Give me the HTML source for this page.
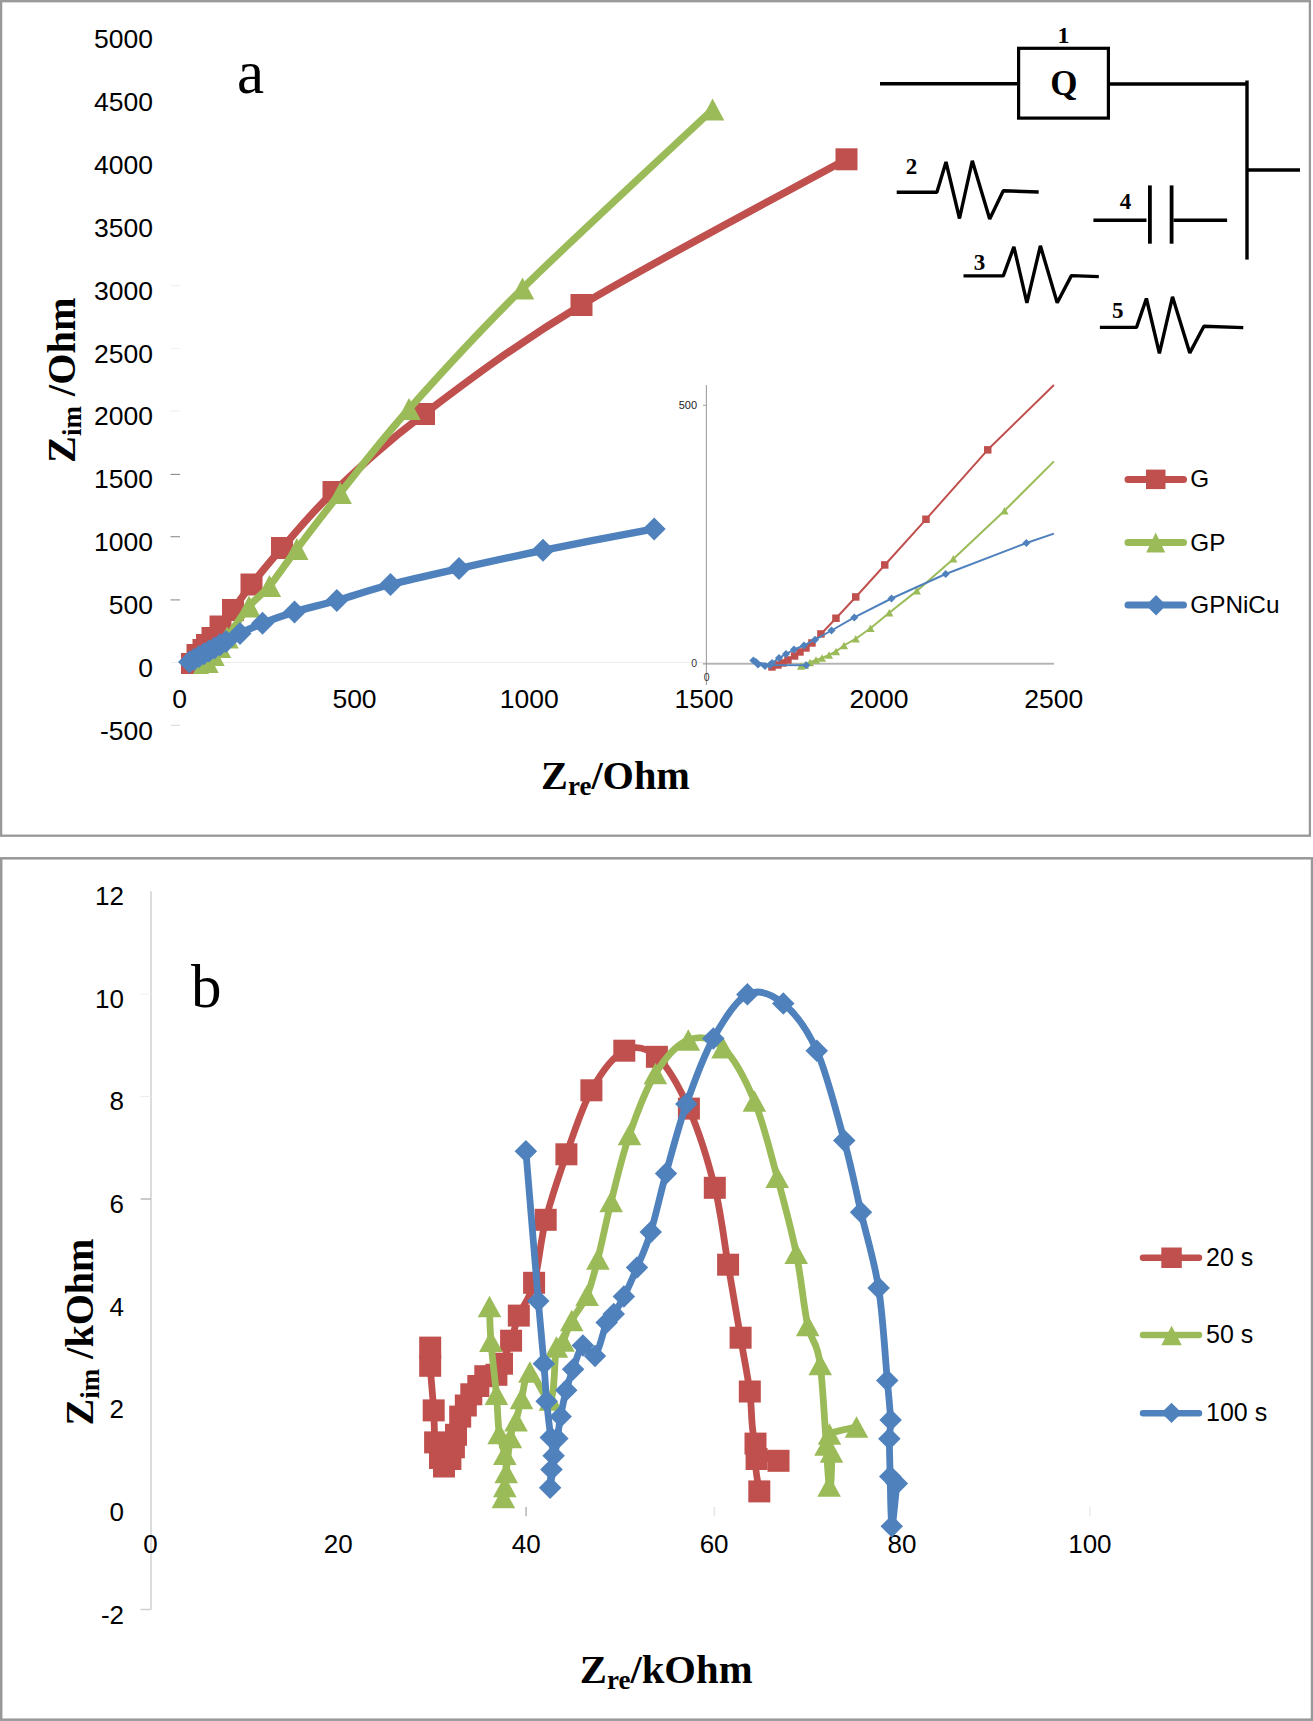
<!DOCTYPE html><html><head><meta charset="utf-8"><style>html,body{margin:0;padding:0;background:#fff;width:1313px;height:1721px;overflow:hidden}svg{display:block}.s{font-family:"Liberation Sans",sans-serif}.r{font-family:"Liberation Serif",serif}</style></head><body>
<svg width="1313" height="1721" viewBox="0 0 1313 1721">
<defs><clipPath id="ca"><rect x="0" y="0" width="1313" height="674"/></clipPath></defs>
<rect width="1313" height="1721" fill="#fff"/>
<rect x="1.1" y="1.2" width="1308.8" height="834.5" fill="none" stroke="#989898" stroke-width="2.3"/>
<rect x="1.2" y="858.3" width="1310.8" height="861.4" fill="none" stroke="#989898" stroke-width="2.5"/>
<text x="153" y="48.2" class="s" font-size="26.5" text-anchor="end" fill="#000">5000</text>
<text x="153" y="111.1" class="s" font-size="26.5" text-anchor="end" fill="#000">4500</text>
<text x="153" y="173.9" class="s" font-size="26.5" text-anchor="end" fill="#000">4000</text>
<text x="153" y="236.8" class="s" font-size="26.5" text-anchor="end" fill="#000">3500</text>
<text x="153" y="299.7" class="s" font-size="26.5" text-anchor="end" fill="#000">3000</text>
<text x="153" y="362.5" class="s" font-size="26.5" text-anchor="end" fill="#000">2500</text>
<text x="153" y="425.4" class="s" font-size="26.5" text-anchor="end" fill="#000">2000</text>
<text x="153" y="488.3" class="s" font-size="26.5" text-anchor="end" fill="#000">1500</text>
<text x="153" y="551.2" class="s" font-size="26.5" text-anchor="end" fill="#000">1000</text>
<text x="153" y="614.0" class="s" font-size="26.5" text-anchor="end" fill="#000">500</text>
<text x="153" y="676.9" class="s" font-size="26.5" text-anchor="end" fill="#000">0</text>
<text x="153" y="739.8" class="s" font-size="26.5" text-anchor="end" fill="#000">-500</text>
<text x="179.7" y="707.8" class="s" font-size="26.5" text-anchor="middle" fill="#000">0</text>
<text x="354.5" y="707.8" class="s" font-size="26.5" text-anchor="middle" fill="#000">500</text>
<text x="529.3" y="707.8" class="s" font-size="26.5" text-anchor="middle" fill="#000">1000</text>
<text x="704.1" y="707.8" class="s" font-size="26.5" text-anchor="middle" fill="#000">1500</text>
<text x="878.9" y="707.8" class="s" font-size="26.5" text-anchor="middle" fill="#000">2000</text>
<text x="1053.7" y="707.8" class="s" font-size="26.5" text-anchor="middle" fill="#000">2500</text>
<line x1="171" y1="662.5" x2="1054" y2="662.5" stroke="#ececec" stroke-width="1"/>
<line x1="171" y1="725.3" x2="180" y2="725.3" stroke="#d8d8d8" stroke-width="1"/>
<line x1="170.5" y1="285.6" x2="180" y2="285.6" stroke="#f0f0f0" stroke-width="1.1"/>
<line x1="170.5" y1="348.5" x2="180" y2="348.5" stroke="#f0f0f0" stroke-width="1.1"/>
<line x1="170.5" y1="411" x2="180" y2="411" stroke="#efefef" stroke-width="1.1"/>
<line x1="170.5" y1="474.4" x2="180" y2="474.4" stroke="#8a8a8a" stroke-width="1.1"/>
<line x1="170.5" y1="536.7" x2="180" y2="536.7" stroke="#8f8f8f" stroke-width="1.1"/>
<line x1="170.5" y1="599.9" x2="180" y2="599.9" stroke="#8f8f8f" stroke-width="1.1"/>
<text x="237" y="92.7" class="r" font-size="61" fill="#000">a</text>
<text transform="translate(74.7,463) rotate(-90)" class="r" font-weight="bold" font-size="40.3" fill="#000">Z<tspan font-size="27" dy="6">im</tspan><tspan dy="-6"> /Ohm</tspan></text>
<text x="541" y="788.6" class="r" font-weight="bold" font-size="40.3" fill="#000">Z<tspan font-size="27" dy="6">re</tspan><tspan dy="-6">/Ohm</tspan></text>
<g clip-path="url(#ca)">
<path d="M192.0,664.0 C192.9,662.5 195.6,657.3 197.5,655.0 C199.4,652.7 201.9,651.7 203.5,650.0 C205.1,648.3 205.5,647.0 207.0,645.0 C208.5,643.0 210.2,641.1 212.5,638.0 C214.8,634.9 217.1,631.2 220.5,626.5 C223.9,621.8 227.8,617.0 233.0,610.0 C238.2,603.0 243.3,594.8 251.5,584.5 C259.7,574.2 268.3,563.4 282.0,548.0 C295.7,532.6 309.8,514.3 333.5,492.0 C357.2,469.7 382.7,445.2 424.0,414.0 C465.3,382.8 511.1,347.4 581.5,305.0 C651.9,262.6 802.3,183.6 846.5,159.3" fill="none" stroke="#C0504D" stroke-width="7.4" stroke-linejoin="round" stroke-linecap="round"/>
<rect x="181.0" y="653.0" width="22" height="22" fill="#C0504D"/>
<rect x="186.5" y="644.0" width="22" height="22" fill="#C0504D"/>
<rect x="192.5" y="639.0" width="22" height="22" fill="#C0504D"/>
<rect x="196.0" y="634.0" width="22" height="22" fill="#C0504D"/>
<rect x="201.5" y="627.0" width="22" height="22" fill="#C0504D"/>
<rect x="209.5" y="615.5" width="22" height="22" fill="#C0504D"/>
<rect x="222.0" y="599.0" width="22" height="22" fill="#C0504D"/>
<rect x="240.5" y="573.5" width="22" height="22" fill="#C0504D"/>
<rect x="271.0" y="537.0" width="22" height="22" fill="#C0504D"/>
<rect x="322.5" y="481.0" width="22" height="22" fill="#C0504D"/>
<rect x="413.0" y="403.0" width="22" height="22" fill="#C0504D"/>
<rect x="570.5" y="294.0" width="22" height="22" fill="#C0504D"/>
<rect x="835.5" y="148.3" width="22" height="22" fill="#C0504D"/>
</g>
<g clip-path="url(#ca)">
<path d="M201.0,670.0 C202.0,668.7 205.0,664.5 207.0,662.0 C209.0,659.5 210.9,657.5 213.0,655.0 C215.1,652.5 217.2,649.9 219.5,647.0 C221.8,644.1 222.1,644.2 227.0,637.5 C231.9,630.8 241.9,615.1 249.0,606.5 C256.1,597.9 261.4,595.6 269.4,586.0 C277.4,576.4 285.0,564.5 296.8,549.0 C308.6,533.5 321.5,516.3 340.2,493.0 C358.9,469.7 378.6,443.1 409.0,409.0 C439.4,374.9 471.9,338.4 522.5,288.5 C573.1,238.6 680.9,139.4 712.6,109.6" fill="none" stroke="#9BBB59" stroke-width="7.3" stroke-linejoin="round" stroke-linecap="round"/>
<polygon points="201.0,659.0 212.7,681.0 189.3,681.0" fill="#9BBB59"/>
<polygon points="207.0,651.0 218.7,673.0 195.3,673.0" fill="#9BBB59"/>
<polygon points="213.0,644.0 224.7,666.0 201.3,666.0" fill="#9BBB59"/>
<polygon points="219.5,636.0 231.2,658.0 207.8,658.0" fill="#9BBB59"/>
<polygon points="227.0,626.5 238.7,648.5 215.3,648.5" fill="#9BBB59"/>
<polygon points="249.0,595.5 260.7,617.5 237.3,617.5" fill="#9BBB59"/>
<polygon points="269.4,575.0 281.1,597.0 257.7,597.0" fill="#9BBB59"/>
<polygon points="296.8,538.0 308.5,560.0 285.1,560.0" fill="#9BBB59"/>
<polygon points="340.2,482.0 351.9,504.0 328.5,504.0" fill="#9BBB59"/>
<polygon points="409.0,398.0 420.7,420.0 397.3,420.0" fill="#9BBB59"/>
<polygon points="522.5,277.5 534.2,299.5 510.8,299.5" fill="#9BBB59"/>
<polygon points="712.6,98.6 724.3,120.6 700.9,120.6" fill="#9BBB59"/>
</g>
<g clip-path="url(#ca)">
<path d="M189.5,662.0 C190.2,661.6 192.4,660.4 194.0,659.5 C195.6,658.6 197.3,657.6 199.0,656.6 C200.7,655.6 202.3,654.7 204.0,653.8 C205.7,652.9 207.2,652.0 209.0,651.0 C210.8,650.0 212.7,648.9 214.5,647.9 C216.3,646.9 218.1,645.9 220.0,644.8 C221.9,643.7 222.7,643.3 226.0,641.4 C229.3,639.5 233.9,636.5 240.0,633.5 C246.1,630.5 253.4,626.9 262.5,623.3 C271.6,619.7 282.1,615.8 294.5,612.0 C306.9,608.2 320.8,605.1 336.8,600.5 C352.8,595.9 370.1,589.8 390.5,584.5 C410.9,579.2 433.6,574.2 459.0,568.5 C484.4,562.8 510.5,556.9 543.0,550.3 C575.5,543.7 635.7,532.5 654.2,528.9" fill="none" stroke="#4F81BD" stroke-width="7.4" stroke-linejoin="round" stroke-linecap="round"/>
<polygon points="189.5,650.5 201.0,662.0 189.5,673.5 178.0,662.0" fill="#4F81BD"/>
<polygon points="194.0,648.0 205.5,659.5 194.0,671.0 182.5,659.5" fill="#4F81BD"/>
<polygon points="199.0,645.1 210.5,656.6 199.0,668.1 187.5,656.6" fill="#4F81BD"/>
<polygon points="204.0,642.3 215.5,653.8 204.0,665.3 192.5,653.8" fill="#4F81BD"/>
<polygon points="209.0,639.5 220.5,651.0 209.0,662.5 197.5,651.0" fill="#4F81BD"/>
<polygon points="214.5,636.4 226.0,647.9 214.5,659.4 203.0,647.9" fill="#4F81BD"/>
<polygon points="220.0,633.3 231.5,644.8 220.0,656.3 208.5,644.8" fill="#4F81BD"/>
<polygon points="226.0,629.9 237.5,641.4 226.0,652.9 214.5,641.4" fill="#4F81BD"/>
<polygon points="240.0,622.0 251.5,633.5 240.0,645.0 228.5,633.5" fill="#4F81BD"/>
<polygon points="262.5,611.8 274.0,623.3 262.5,634.8 251.0,623.3" fill="#4F81BD"/>
<polygon points="294.5,600.5 306.0,612.0 294.5,623.5 283.0,612.0" fill="#4F81BD"/>
<polygon points="336.8,589.0 348.3,600.5 336.8,612.0 325.3,600.5" fill="#4F81BD"/>
<polygon points="390.5,573.0 402.0,584.5 390.5,596.0 379.0,584.5" fill="#4F81BD"/>
<polygon points="459.0,557.0 470.5,568.5 459.0,580.0 447.5,568.5" fill="#4F81BD"/>
<polygon points="543.0,538.8 554.5,550.3 543.0,561.8 531.5,550.3" fill="#4F81BD"/>
<polygon points="654.2,517.4 665.7,528.9 654.2,540.4 642.7,528.9" fill="#4F81BD"/>
</g>
<line x1="706.4" y1="385" x2="706.4" y2="685" stroke="#a0a0a0" stroke-width="1.1"/>
<line x1="702.8" y1="663.9" x2="1054" y2="663.9" stroke="#9a9a9a" stroke-width="1.4"/>
<line x1="703" y1="405.3" x2="706.4" y2="405.3" stroke="#a0a0a0" stroke-width="1"/>
<text x="697" y="409.3" class="s" font-size="11" text-anchor="end" fill="#222">500</text>
<text x="697" y="666.8" class="s" font-size="10.5" text-anchor="end" fill="#333">0</text>
<text x="706.7" y="681.2" class="s" font-size="10.5" text-anchor="middle" fill="#333">0</text>
<polyline points="772.0,667.0 778.0,665.0 783.0,663.0 788.0,660.0 794.5,656.0 800.0,652.0 806.0,648.0 812.0,643.0 821.0,634.0 836.0,618.3 855.8,597.0 884.8,565.0 926.0,519.3 987.7,449.8 1053.9,385.0" fill="none" stroke="#C0504D" stroke-width="2" stroke-linejoin="round"/>
<rect x="768.2" y="663.2" width="7.5" height="7.5" fill="#C0504D"/>
<rect x="774.2" y="661.2" width="7.5" height="7.5" fill="#C0504D"/>
<rect x="779.2" y="659.2" width="7.5" height="7.5" fill="#C0504D"/>
<rect x="784.2" y="656.2" width="7.5" height="7.5" fill="#C0504D"/>
<rect x="790.8" y="652.2" width="7.5" height="7.5" fill="#C0504D"/>
<rect x="796.2" y="648.2" width="7.5" height="7.5" fill="#C0504D"/>
<rect x="802.2" y="644.2" width="7.5" height="7.5" fill="#C0504D"/>
<rect x="808.2" y="639.2" width="7.5" height="7.5" fill="#C0504D"/>
<rect x="817.2" y="630.2" width="7.5" height="7.5" fill="#C0504D"/>
<rect x="832.2" y="614.5" width="7.5" height="7.5" fill="#C0504D"/>
<rect x="852.0" y="593.2" width="7.5" height="7.5" fill="#C0504D"/>
<rect x="881.0" y="561.2" width="7.5" height="7.5" fill="#C0504D"/>
<rect x="922.2" y="515.5" width="7.5" height="7.5" fill="#C0504D"/>
<rect x="984.0" y="446.1" width="7.5" height="7.5" fill="#C0504D"/>
<polyline points="801.0,666.0 805.0,665.0 810.0,662.5 816.0,660.0 822.0,658.0 829.0,655.0 836.0,651.5 844.0,645.5 855.8,638.7 870.5,628.3 889.3,612.8 916.8,590.9 953.3,558.9 1004.5,510.7 1053.9,461.4" fill="none" stroke="#9BBB59" stroke-width="2" stroke-linejoin="round"/>
<polygon points="801.0,662.2 805.1,669.8 796.9,669.8" fill="#9BBB59"/>
<polygon points="805.0,661.2 809.1,668.8 800.9,668.8" fill="#9BBB59"/>
<polygon points="810.0,658.8 814.1,666.2 805.9,666.2" fill="#9BBB59"/>
<polygon points="816.0,656.2 820.1,663.8 811.9,663.8" fill="#9BBB59"/>
<polygon points="822.0,654.2 826.1,661.8 817.9,661.8" fill="#9BBB59"/>
<polygon points="829.0,651.2 833.1,658.8 824.9,658.8" fill="#9BBB59"/>
<polygon points="836.0,647.8 840.1,655.2 831.9,655.2" fill="#9BBB59"/>
<polygon points="844.0,641.8 848.1,649.2 839.9,649.2" fill="#9BBB59"/>
<polygon points="855.8,635.0 859.9,642.5 851.7,642.5" fill="#9BBB59"/>
<polygon points="870.5,624.5 874.6,632.0 866.4,632.0" fill="#9BBB59"/>
<polygon points="889.3,609.0 893.4,616.5 885.2,616.5" fill="#9BBB59"/>
<polygon points="916.8,587.1 920.9,594.6 912.7,594.6" fill="#9BBB59"/>
<polygon points="953.3,555.1 957.4,562.6 949.2,562.6" fill="#9BBB59"/>
<polygon points="1004.5,506.9 1008.6,514.5 1000.4,514.5" fill="#9BBB59"/>
<polyline points="806.3,665.2 770.0,665.0 756.0,662.0 753.4,660.5 758.0,664.5 765.0,666.0 772.0,663.0 779.0,658.0 786.0,654.0 794.0,649.5 804.0,645.5 815.0,639.7 831.5,630.5 854.3,617.4 891.5,598.5 945.7,574.0 1026.4,543.0 1053.9,533.6" fill="none" stroke="#4F81BD" stroke-width="2" stroke-linejoin="round"/>
<polygon points="806.3,661.2 810.3,665.2 806.3,669.2 802.3,665.2" fill="#4F81BD"/>
<polygon points="770.0,661.0 774.0,665.0 770.0,669.0 766.0,665.0" fill="#4F81BD"/>
<polygon points="756.0,658.0 760.0,662.0 756.0,666.0 752.0,662.0" fill="#4F81BD"/>
<polygon points="753.4,656.5 757.4,660.5 753.4,664.5 749.4,660.5" fill="#4F81BD"/>
<polygon points="758.0,660.5 762.0,664.5 758.0,668.5 754.0,664.5" fill="#4F81BD"/>
<polygon points="765.0,662.0 769.0,666.0 765.0,670.0 761.0,666.0" fill="#4F81BD"/>
<polygon points="772.0,659.0 776.0,663.0 772.0,667.0 768.0,663.0" fill="#4F81BD"/>
<polygon points="779.0,654.0 783.0,658.0 779.0,662.0 775.0,658.0" fill="#4F81BD"/>
<polygon points="786.0,650.0 790.0,654.0 786.0,658.0 782.0,654.0" fill="#4F81BD"/>
<polygon points="794.0,645.5 798.0,649.5 794.0,653.5 790.0,649.5" fill="#4F81BD"/>
<polygon points="804.0,641.5 808.0,645.5 804.0,649.5 800.0,645.5" fill="#4F81BD"/>
<polygon points="815.0,635.7 819.0,639.7 815.0,643.7 811.0,639.7" fill="#4F81BD"/>
<polygon points="831.5,626.5 835.5,630.5 831.5,634.5 827.5,630.5" fill="#4F81BD"/>
<polygon points="854.3,613.4 858.3,617.4 854.3,621.4 850.3,617.4" fill="#4F81BD"/>
<polygon points="891.5,594.5 895.5,598.5 891.5,602.5 887.5,598.5" fill="#4F81BD"/>
<polygon points="945.7,570.0 949.7,574.0 945.7,578.0 941.7,574.0" fill="#4F81BD"/>
<polygon points="1026.4,539.0 1030.4,543.0 1026.4,547.0 1022.4,543.0" fill="#4F81BD"/>
<line x1="1128" y1="479.4" x2="1183.5" y2="479.4" stroke="#C0504D" stroke-width="7" stroke-linecap="round"/>
<rect x="1146.0" y="469.6" width="19.5" height="19.5" fill="#C0504D"/>
<text x="1190.3" y="487.4" class="s" font-size="24.3" fill="#000">G</text>
<line x1="1128" y1="542.6" x2="1183.5" y2="542.6" stroke="#9BBB59" stroke-width="7" stroke-linecap="round"/>
<polygon points="1155.7,532.4 1165.2,552.4 1146.2,552.4" fill="#9BBB59"/>
<text x="1190.3" y="550.6" class="s" font-size="24.3" fill="#000">GP</text>
<line x1="1128" y1="605" x2="1183.5" y2="605" stroke="#4F81BD" stroke-width="7" stroke-linecap="round"/>
<polygon points="1156.1,595.1 1163.0,602.0 1163.0,608.5 1156.1,615.4 1149.1,608.5 1149.1,602.0" fill="#4F81BD"/>
<text x="1190.3" y="613.0" class="s" font-size="24.3" fill="#000">GPNiCu</text>
<line x1="880" y1="83.7" x2="1018.6" y2="83.7" stroke="#000" stroke-width="3.4" fill="none" stroke-linejoin="bevel"/>
<rect x="1018.6" y="48.3" width="89.8" height="69.8" stroke="#000" stroke-width="3.2" fill="none"/>
<line x1="1108.4" y1="84" x2="1247" y2="84" stroke="#000" stroke-width="3.4" fill="none" stroke-linejoin="bevel"/>
<line x1="1247" y1="80.5" x2="1247" y2="259.6" stroke="#000" stroke-width="3.4" fill="none" stroke-linejoin="bevel"/>
<line x1="1247" y1="170" x2="1300" y2="170" stroke="#000" stroke-width="3.4" fill="none" stroke-linejoin="bevel"/>
<polyline points="896.7,192.3 936.9,192.3 946,162 959.5,218.5 972.3,160.8 989.7,219 1003.3,190.8 1038.7,192" stroke="#000" stroke-width="3.4" fill="none" stroke-linejoin="bevel"/>
<polyline points="963.5,275.9 1003.3,275.9 1013.9,246.8 1026.9,302.8 1040.4,245.8 1057.2,302.8 1071.4,275.6 1098.8,276.6" stroke="#000" stroke-width="3.4" fill="none" stroke-linejoin="bevel"/>
<polyline points="1099.9,327.4 1136.5,327.4 1146.4,298.5 1159.4,353.4 1172.5,296.8 1189.8,352.9 1203.9,326.3 1243.3,327.6" stroke="#000" stroke-width="3.4" fill="none" stroke-linejoin="bevel"/>
<line x1="1093.4" y1="220.2" x2="1146.5" y2="220.2" stroke="#000" stroke-width="3.4" fill="none" stroke-linejoin="bevel"/>
<line x1="1149.9" y1="185.4" x2="1149.9" y2="243.7" stroke="#000" stroke-width="3.8"/>
<line x1="1171.6" y1="185.4" x2="1171.6" y2="243.7" stroke="#000" stroke-width="3.8"/>
<line x1="1173.5" y1="220.2" x2="1227.1" y2="220.2" stroke="#000" stroke-width="3.4" fill="none" stroke-linejoin="bevel"/>
<text x="1063.4" y="42.6" class="r" font-weight="bold" font-size="24" text-anchor="middle" fill="#000">1</text>
<text x="1063.8" y="95.4" class="r" font-weight="bold" font-size="35" text-anchor="middle" fill="#000">Q</text>
<text x="911.4" y="174.4" class="r" font-weight="bold" font-size="23" text-anchor="middle" fill="#000">2</text>
<text x="1125.6" y="209.3" class="r" font-weight="bold" font-size="23" text-anchor="middle" fill="#000">4</text>
<text x="979.4" y="269.8" class="r" font-weight="bold" font-size="23" text-anchor="middle" fill="#000">3</text>
<text x="1117.7" y="318.1" class="r" font-weight="bold" font-size="23" text-anchor="middle" fill="#000">5</text>
<line x1="151" y1="891.3" x2="151" y2="1609.5" stroke="#d0d0d0" stroke-width="1.5"/>
<line x1="140.5" y1="1609.5" x2="151" y2="1609.5" stroke="#d0d0d0" stroke-width="1.5"/>
<line x1="140.7" y1="994.1" x2="151" y2="994.1" stroke="#f0f0f0" stroke-width="1"/>
<line x1="140.7" y1="1096.6" x2="151" y2="1096.6" stroke="#ececec" stroke-width="1.2"/>
<line x1="140.7" y1="1199" x2="151" y2="1199" stroke="#b8b8b8" stroke-width="1.5"/>
<line x1="526.1" y1="1507" x2="526.1" y2="1516.2" stroke="#b4b4b4" stroke-width="1.5"/>
<line x1="714.3" y1="1507" x2="714.3" y2="1516.2" stroke="#e6e6e6" stroke-width="1.5"/>
<line x1="1089.9" y1="1507" x2="1089.9" y2="1516.2" stroke="#ebebeb" stroke-width="1.5"/>
<text x="124" y="905.0" class="s" font-size="26" text-anchor="end" fill="#000">12</text>
<text x="124" y="1007.7" class="s" font-size="26" text-anchor="end" fill="#000">10</text>
<text x="124" y="1110.4" class="s" font-size="26" text-anchor="end" fill="#000">8</text>
<text x="124" y="1213.0" class="s" font-size="26" text-anchor="end" fill="#000">6</text>
<text x="124" y="1315.7" class="s" font-size="26" text-anchor="end" fill="#000">4</text>
<text x="124" y="1418.4" class="s" font-size="26" text-anchor="end" fill="#000">2</text>
<text x="124" y="1521.1" class="s" font-size="26" text-anchor="end" fill="#000">0</text>
<text x="124" y="1623.8" class="s" font-size="26" text-anchor="end" fill="#000">-2</text>
<text x="150.4" y="1553" class="s" font-size="26" text-anchor="middle" fill="#000">0</text>
<text x="338.3" y="1553" class="s" font-size="26" text-anchor="middle" fill="#000">20</text>
<text x="526.2" y="1553" class="s" font-size="26" text-anchor="middle" fill="#000">40</text>
<text x="714.1" y="1553" class="s" font-size="26" text-anchor="middle" fill="#000">60</text>
<text x="902.0" y="1553" class="s" font-size="26" text-anchor="middle" fill="#000">80</text>
<text x="1089.9" y="1553" class="s" font-size="26" text-anchor="middle" fill="#000">100</text>
<text x="191" y="1007" class="r" font-size="61" fill="#000">b</text>
<text transform="translate(92.7,1425.4) rotate(-90)" class="r" font-weight="bold" font-size="40" fill="#000">Z<tspan font-size="27" dy="6">im</tspan><tspan dy="-6"> /kOhm</tspan></text>
<text x="579.8" y="1682.6" class="r" font-weight="bold" font-size="40.7" fill="#000">Z<tspan font-size="27" dy="6">re</tspan><tspan dy="-6">/kOhm</tspan></text>
<g>
<path d="M430.2,1347.6 C430.2,1350.6 429.6,1355.3 430.2,1365.8 C430.8,1376.3 432.9,1397.6 433.7,1410.4 C434.5,1423.2 434.1,1434.5 435.1,1442.4 C436.2,1450.3 438.5,1454.0 440.0,1458.0 C441.5,1462.0 442.3,1466.3 444.0,1466.5 C445.7,1466.7 448.8,1462.2 450.4,1459.0 C452.0,1455.8 453.0,1451.3 453.9,1447.3 C454.8,1443.3 454.9,1439.9 456.0,1434.8 C457.1,1429.7 458.6,1421.5 460.2,1416.6 C461.8,1411.7 463.9,1409.2 465.8,1405.5 C467.7,1401.8 469.2,1397.5 471.3,1394.3 C473.4,1391.0 476.0,1389.0 478.3,1386.0 C480.6,1383.0 482.3,1378.1 485.3,1376.2 C488.3,1374.3 493.6,1376.9 496.4,1374.8 C499.2,1372.7 499.6,1369.4 502.0,1363.7 C504.4,1358.0 508.3,1348.7 511.1,1340.7 C513.9,1332.7 515.0,1325.2 518.8,1315.6 C522.6,1305.9 529.6,1298.8 534.1,1282.8 C538.6,1266.8 540.3,1241.2 545.7,1219.8 C551.1,1198.4 558.8,1175.9 566.4,1154.3 C574.0,1132.7 581.8,1107.6 591.4,1090.3 C601.0,1073.0 613.4,1056.3 624.3,1050.7 C635.2,1045.1 646.1,1047.2 656.9,1056.8 C667.7,1066.4 679.2,1086.8 688.9,1108.6 C698.5,1130.4 708.3,1161.8 714.8,1187.8 C721.3,1213.8 723.8,1239.7 728.1,1264.7 C732.4,1289.7 737.0,1316.6 740.6,1337.7 C744.2,1358.8 747.3,1373.8 749.8,1391.5 C752.3,1409.2 750.7,1432.0 755.5,1443.6 C760.3,1455.1 778.3,1458.2 778.5,1460.8 C778.7,1463.4 759.8,1453.9 756.6,1459.0 C753.4,1464.1 758.8,1486.0 759.3,1491.4" fill="none" stroke="#C0504D" stroke-width="6.8" stroke-linejoin="round" stroke-linecap="round"/>
<rect x="419.2" y="1336.6" width="22" height="22" fill="#C0504D"/>
<rect x="419.2" y="1354.8" width="22" height="22" fill="#C0504D"/>
<rect x="422.7" y="1399.4" width="22" height="22" fill="#C0504D"/>
<rect x="424.1" y="1431.4" width="22" height="22" fill="#C0504D"/>
<rect x="429.0" y="1447.0" width="22" height="22" fill="#C0504D"/>
<rect x="433.0" y="1455.5" width="22" height="22" fill="#C0504D"/>
<rect x="439.4" y="1448.0" width="22" height="22" fill="#C0504D"/>
<rect x="442.9" y="1436.3" width="22" height="22" fill="#C0504D"/>
<rect x="445.0" y="1423.8" width="22" height="22" fill="#C0504D"/>
<rect x="449.2" y="1405.6" width="22" height="22" fill="#C0504D"/>
<rect x="454.8" y="1394.5" width="22" height="22" fill="#C0504D"/>
<rect x="460.3" y="1383.3" width="22" height="22" fill="#C0504D"/>
<rect x="467.3" y="1375.0" width="22" height="22" fill="#C0504D"/>
<rect x="474.3" y="1365.2" width="22" height="22" fill="#C0504D"/>
<rect x="485.4" y="1363.8" width="22" height="22" fill="#C0504D"/>
<rect x="491.0" y="1352.7" width="22" height="22" fill="#C0504D"/>
<rect x="500.1" y="1329.7" width="22" height="22" fill="#C0504D"/>
<rect x="507.8" y="1304.6" width="22" height="22" fill="#C0504D"/>
<rect x="523.1" y="1271.8" width="22" height="22" fill="#C0504D"/>
<rect x="534.7" y="1208.8" width="22" height="22" fill="#C0504D"/>
<rect x="555.4" y="1143.3" width="22" height="22" fill="#C0504D"/>
<rect x="580.4" y="1079.3" width="22" height="22" fill="#C0504D"/>
<rect x="613.3" y="1039.7" width="22" height="22" fill="#C0504D"/>
<rect x="645.9" y="1045.8" width="22" height="22" fill="#C0504D"/>
<rect x="677.9" y="1097.6" width="22" height="22" fill="#C0504D"/>
<rect x="703.8" y="1176.8" width="22" height="22" fill="#C0504D"/>
<rect x="717.1" y="1253.7" width="22" height="22" fill="#C0504D"/>
<rect x="729.6" y="1326.7" width="22" height="22" fill="#C0504D"/>
<rect x="738.8" y="1380.5" width="22" height="22" fill="#C0504D"/>
<rect x="744.5" y="1432.6" width="22" height="22" fill="#C0504D"/>
<rect x="767.5" y="1449.8" width="22" height="22" fill="#C0504D"/>
<rect x="745.6" y="1448.0" width="22" height="22" fill="#C0504D"/>
<rect x="748.3" y="1480.4" width="22" height="22" fill="#C0504D"/>
</g>
<g>
<path d="M489.5,1306.5 C489.7,1312.3 489.8,1326.7 490.9,1341.3 C492.0,1355.9 495.0,1378.9 496.4,1394.3 C497.8,1409.7 497.8,1423.4 499.2,1433.4 C500.6,1443.4 503.6,1447.8 504.8,1454.3 C506.0,1460.8 506.2,1467.1 506.2,1472.4 C506.2,1477.8 505.3,1482.2 504.8,1486.4 C504.3,1490.6 502.5,1505.6 503.4,1497.5 C504.3,1489.4 508.3,1450.4 510.4,1437.6 C512.5,1424.8 514.1,1427.3 516.0,1420.8 C517.9,1414.3 519.2,1406.6 521.5,1398.5 C523.8,1390.4 525.1,1371.8 529.9,1372.0 C534.7,1372.2 546.1,1404.2 550.5,1400.0 C554.9,1395.8 554.3,1356.8 556.4,1347.0 C558.5,1337.2 560.5,1345.4 563.0,1341.0 C565.5,1336.6 567.7,1328.0 571.7,1320.4 C575.7,1312.8 582.7,1305.5 587.1,1295.3 C591.5,1285.0 593.9,1274.5 597.9,1258.9 C601.9,1243.3 605.9,1222.2 611.2,1201.5 C616.5,1180.8 622.1,1155.8 629.5,1134.5 C636.9,1113.2 645.6,1089.3 655.4,1073.6 C665.2,1057.8 677.0,1044.3 688.3,1040.0 C699.6,1035.7 712.0,1037.5 723.0,1047.7 C734.0,1057.9 745.4,1079.4 754.4,1101.0 C763.4,1122.6 770.2,1151.8 777.2,1177.2 C784.2,1202.6 791.1,1228.5 796.2,1253.2 C801.3,1277.9 803.7,1306.9 807.7,1325.5 C811.7,1344.1 816.6,1337.8 820.2,1364.6 C823.8,1391.3 827.2,1471.4 829.1,1486.0 C831.0,1500.6 832.0,1458.8 831.5,1452.0 C831.0,1445.2 826.3,1448.0 826.0,1445.0 C825.7,1442.0 824.4,1437.0 829.5,1434.0 C834.6,1431.0 852.0,1428.2 856.5,1427.0" fill="none" stroke="#9BBB59" stroke-width="6.8" stroke-linejoin="round" stroke-linecap="round"/>
<polygon points="489.5,1295.8 501.3,1317.2 477.7,1317.2" fill="#9BBB59"/>
<polygon points="490.9,1330.5 502.7,1352.0 479.1,1352.0" fill="#9BBB59"/>
<polygon points="496.4,1383.5 508.2,1405.0 484.6,1405.0" fill="#9BBB59"/>
<polygon points="499.2,1422.7 511.0,1444.2 487.4,1444.2" fill="#9BBB59"/>
<polygon points="504.8,1443.5 516.6,1465.0 493.0,1465.0" fill="#9BBB59"/>
<polygon points="506.2,1461.7 518.0,1483.2 494.4,1483.2" fill="#9BBB59"/>
<polygon points="504.8,1475.7 516.6,1497.2 493.0,1497.2" fill="#9BBB59"/>
<polygon points="503.4,1486.8 515.2,1508.2 491.6,1508.2" fill="#9BBB59"/>
<polygon points="510.4,1426.8 522.2,1448.3 498.6,1448.3" fill="#9BBB59"/>
<polygon points="516.0,1410.0 527.8,1431.5 504.2,1431.5" fill="#9BBB59"/>
<polygon points="521.5,1387.8 533.3,1409.2 509.7,1409.2" fill="#9BBB59"/>
<polygon points="529.9,1361.2 541.7,1382.8 518.1,1382.8" fill="#9BBB59"/>
<polygon points="550.5,1389.2 562.3,1410.8 538.7,1410.8" fill="#9BBB59"/>
<polygon points="556.4,1336.2 568.2,1357.8 544.6,1357.8" fill="#9BBB59"/>
<polygon points="563.0,1330.2 574.8,1351.8 551.2,1351.8" fill="#9BBB59"/>
<polygon points="571.7,1309.7 583.5,1331.2 559.9,1331.2" fill="#9BBB59"/>
<polygon points="587.1,1284.5 598.9,1306.0 575.3,1306.0" fill="#9BBB59"/>
<polygon points="597.9,1248.2 609.7,1269.7 586.1,1269.7" fill="#9BBB59"/>
<polygon points="611.2,1190.8 623.0,1212.2 599.4,1212.2" fill="#9BBB59"/>
<polygon points="629.5,1123.8 641.3,1145.2 617.7,1145.2" fill="#9BBB59"/>
<polygon points="655.4,1062.8 667.2,1084.3 643.6,1084.3" fill="#9BBB59"/>
<polygon points="688.3,1029.2 700.1,1050.8 676.5,1050.8" fill="#9BBB59"/>
<polygon points="723.0,1037.0 734.8,1058.5 711.2,1058.5" fill="#9BBB59"/>
<polygon points="754.4,1090.2 766.2,1111.8 742.6,1111.8" fill="#9BBB59"/>
<polygon points="777.2,1166.5 789.0,1188.0 765.4,1188.0" fill="#9BBB59"/>
<polygon points="796.2,1242.5 808.0,1264.0 784.4,1264.0" fill="#9BBB59"/>
<polygon points="807.7,1314.8 819.5,1336.2 795.9,1336.2" fill="#9BBB59"/>
<polygon points="820.2,1353.8 832.0,1375.3 808.4,1375.3" fill="#9BBB59"/>
<polygon points="829.1,1475.2 840.9,1496.8 817.3,1496.8" fill="#9BBB59"/>
<polygon points="831.5,1441.2 843.3,1462.8 819.7,1462.8" fill="#9BBB59"/>
<polygon points="826.0,1434.2 837.8,1455.8 814.2,1455.8" fill="#9BBB59"/>
<polygon points="829.5,1423.2 841.3,1444.8 817.7,1444.8" fill="#9BBB59"/>
<polygon points="856.5,1416.2 868.3,1437.8 844.7,1437.8" fill="#9BBB59"/>
</g>
<g>
<path d="M525.9,1151.3 C528.0,1176.2 535.3,1265.5 538.3,1300.9 C541.3,1336.3 542.5,1347.0 543.9,1363.7 C545.3,1380.4 545.5,1389.0 546.6,1401.3 C547.8,1413.6 549.6,1428.5 550.8,1437.6 C552.0,1446.7 553.5,1450.4 553.6,1455.7 C553.7,1461.0 552.1,1464.2 551.5,1469.6 C550.9,1474.9 549.1,1493.0 550.1,1487.8 C551.1,1482.6 555.6,1450.3 557.4,1438.4 C559.1,1426.5 559.1,1424.6 560.6,1416.6 C562.1,1408.6 564.1,1398.1 566.2,1390.2 C568.3,1382.3 570.3,1376.7 573.1,1369.2 C575.9,1361.8 579.2,1347.7 582.9,1345.5 C586.5,1343.3 591.0,1359.7 595.0,1355.9 C599.0,1352.1 603.5,1329.6 606.6,1322.6 C609.7,1315.6 610.9,1318.2 613.8,1313.9 C616.7,1309.6 620.0,1304.3 623.9,1296.6 C627.8,1288.9 632.5,1278.4 637.0,1267.6 C641.5,1256.8 646.0,1247.7 650.8,1232.0 C655.6,1216.3 660.1,1194.8 666.0,1173.5 C671.9,1152.2 678.5,1126.5 686.4,1104.0 C694.3,1081.5 703.1,1056.8 713.3,1038.5 C723.5,1020.2 735.7,1000.2 747.4,994.4 C759.1,988.6 771.7,994.1 783.3,1003.5 C794.9,1012.9 806.6,1027.9 816.8,1050.7 C826.9,1073.5 836.8,1113.7 844.2,1140.6 C851.6,1167.5 855.3,1187.7 861.0,1212.2 C866.7,1236.8 874.2,1259.9 878.6,1287.9 C883.0,1316.0 885.3,1358.5 887.3,1380.5 C889.3,1402.5 890.2,1410.3 890.6,1420.0 C891.0,1429.7 889.5,1429.4 889.4,1438.8 C889.3,1448.2 889.8,1461.9 890.2,1476.5 C890.6,1491.1 890.7,1525.1 891.8,1526.3 C892.9,1527.5 896.0,1490.6 896.9,1483.5" fill="none" stroke="#4F81BD" stroke-width="6.8" stroke-linejoin="round" stroke-linecap="round"/>
<polygon points="525.9,1140.0 537.1,1151.3 525.9,1162.5 514.6,1151.3" fill="#4F81BD"/>
<polygon points="538.3,1289.7 549.5,1300.9 538.3,1312.2 527.0,1300.9" fill="#4F81BD"/>
<polygon points="543.9,1352.5 555.1,1363.7 543.9,1375.0 532.6,1363.7" fill="#4F81BD"/>
<polygon points="546.6,1390.0 557.9,1401.3 546.6,1412.5 535.4,1401.3" fill="#4F81BD"/>
<polygon points="550.8,1426.3 562.0,1437.6 550.8,1448.8 539.5,1437.6" fill="#4F81BD"/>
<polygon points="553.6,1444.5 564.9,1455.7 553.6,1467.0 542.4,1455.7" fill="#4F81BD"/>
<polygon points="551.5,1458.3 562.8,1469.6 551.5,1480.8 540.2,1469.6" fill="#4F81BD"/>
<polygon points="550.1,1476.5 561.4,1487.8 550.1,1499.0 538.9,1487.8" fill="#4F81BD"/>
<polygon points="557.4,1427.2 568.6,1438.4 557.4,1449.7 546.1,1438.4" fill="#4F81BD"/>
<polygon points="560.6,1405.3 571.9,1416.6 560.6,1427.8 549.4,1416.6" fill="#4F81BD"/>
<polygon points="566.2,1379.0 577.5,1390.2 566.2,1401.5 555.0,1390.2" fill="#4F81BD"/>
<polygon points="573.1,1358.0 584.4,1369.2 573.1,1380.5 561.9,1369.2" fill="#4F81BD"/>
<polygon points="582.9,1334.2 594.1,1345.5 582.9,1356.8 571.6,1345.5" fill="#4F81BD"/>
<polygon points="595.0,1344.7 606.2,1355.9 595.0,1367.2 583.8,1355.9" fill="#4F81BD"/>
<polygon points="606.6,1311.3 617.9,1322.6 606.6,1333.8 595.4,1322.6" fill="#4F81BD"/>
<polygon points="613.8,1302.7 625.0,1313.9 613.8,1325.2 602.5,1313.9" fill="#4F81BD"/>
<polygon points="623.9,1285.3 635.1,1296.6 623.9,1307.8 612.6,1296.6" fill="#4F81BD"/>
<polygon points="637.0,1256.3 648.2,1267.6 637.0,1278.8 625.8,1267.6" fill="#4F81BD"/>
<polygon points="650.8,1220.8 662.0,1232.0 650.8,1243.2 639.5,1232.0" fill="#4F81BD"/>
<polygon points="666.0,1162.2 677.2,1173.5 666.0,1184.8 654.8,1173.5" fill="#4F81BD"/>
<polygon points="686.4,1092.8 697.6,1104.0 686.4,1115.2 675.1,1104.0" fill="#4F81BD"/>
<polygon points="713.3,1027.2 724.5,1038.5 713.3,1049.8 702.0,1038.5" fill="#4F81BD"/>
<polygon points="747.4,983.1 758.6,994.4 747.4,1005.6 736.1,994.4" fill="#4F81BD"/>
<polygon points="783.3,992.2 794.5,1003.5 783.3,1014.8 772.0,1003.5" fill="#4F81BD"/>
<polygon points="816.8,1039.5 828.0,1050.7 816.8,1062.0 805.5,1050.7" fill="#4F81BD"/>
<polygon points="844.2,1129.3 855.5,1140.6 844.2,1151.8 833.0,1140.6" fill="#4F81BD"/>
<polygon points="861.0,1201.0 872.2,1212.2 861.0,1223.5 849.8,1212.2" fill="#4F81BD"/>
<polygon points="878.6,1276.7 889.9,1287.9 878.6,1299.2 867.4,1287.9" fill="#4F81BD"/>
<polygon points="887.3,1369.2 898.5,1380.5 887.3,1391.8 876.0,1380.5" fill="#4F81BD"/>
<polygon points="890.6,1408.8 901.9,1420.0 890.6,1431.2 879.4,1420.0" fill="#4F81BD"/>
<polygon points="889.4,1427.5 900.6,1438.8 889.4,1450.0 878.1,1438.8" fill="#4F81BD"/>
<polygon points="890.2,1465.2 901.5,1476.5 890.2,1487.8 879.0,1476.5" fill="#4F81BD"/>
<polygon points="891.8,1515.0 903.0,1526.3 891.8,1537.5 880.5,1526.3" fill="#4F81BD"/>
<polygon points="896.9,1472.2 908.1,1483.5 896.9,1494.8 885.6,1483.5" fill="#4F81BD"/>
</g>
<line x1="1143" y1="1257.8" x2="1199" y2="1257.8" stroke="#C0504D" stroke-width="6.5" stroke-linecap="round"/>
<rect x="1161.3" y="1247.5" width="20.5" height="20.5" fill="#C0504D"/>
<text x="1206" y="1265.8" class="s" font-size="25" fill="#000">20 s</text>
<line x1="1143" y1="1335.1" x2="1199" y2="1335.1" stroke="#9BBB59" stroke-width="6.5" stroke-linecap="round"/>
<polygon points="1171.6,1325.8 1181.8,1345.2 1161.3,1345.2" fill="#9BBB59"/>
<text x="1206" y="1343.1" class="s" font-size="25" fill="#000">50 s</text>
<line x1="1143" y1="1413.2" x2="1199" y2="1413.2" stroke="#4F81BD" stroke-width="6.5" stroke-linecap="round"/>
<polygon points="1171.5,1402.8 1178.8,1410.1 1178.8,1415.7 1171.5,1423.0 1164.2,1415.7 1164.2,1410.1" fill="#4F81BD"/>
<text x="1206" y="1421.2" class="s" font-size="25" fill="#000">100 s</text>
</svg></body></html>
